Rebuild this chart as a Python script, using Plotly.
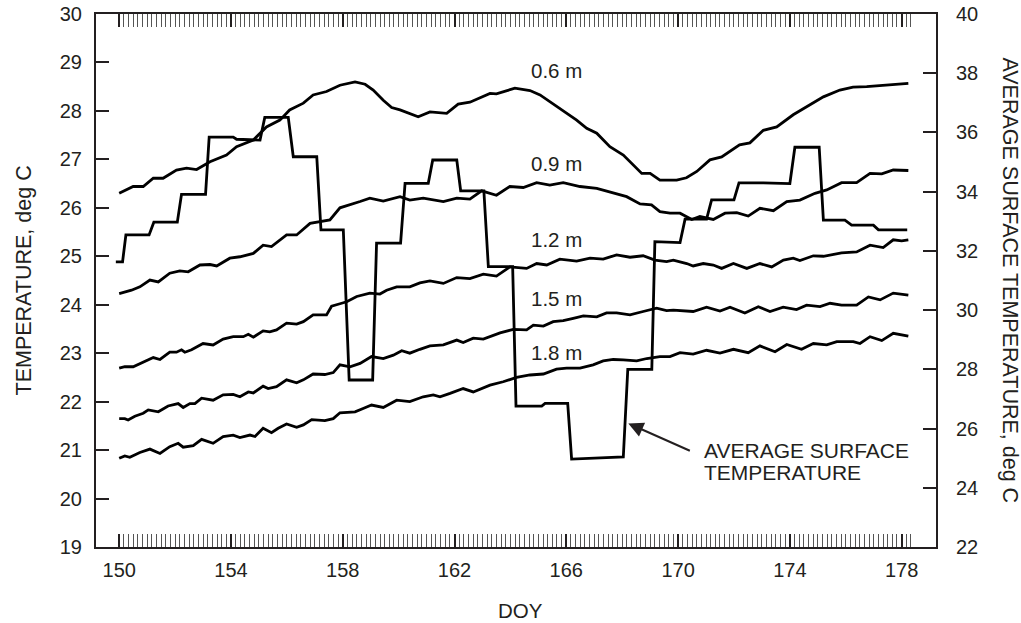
import plotly.graph_objects as go

# ---------------- data ----------------
d06_day = [150.0, 150.5, 150.86, 151.22, 151.57, 152.05, 152.41, 152.77, 153.25, 153.84, 154.2, 154.8,
           155.27, 155.75, 156.1, 156.59, 156.94, 157.42, 157.9, 158.44, 158.8, 159.09, 159.45, 159.75,
           160.05, 160.7, 161.12, 161.72, 162.13, 162.55, 163.27, 163.5, 164.16, 164.7, 165.06, 165.65,
           166.37, 166.73, 167.09, 167.56, 168.04, 168.7, 169.0, 169.35, 169.95, 170.3, 170.67, 171.14,
           171.56, 172.2, 172.57, 173.05, 173.53, 174.12, 174.6, 175.2, 175.79, 176.26, 176.75, 177.47, 178.24]
d06_temp = [26.30, 26.44, 26.44, 26.61, 26.61, 26.78, 26.82, 26.79, 26.95, 27.09, 27.26, 27.40,
            27.67, 27.81, 28.02, 28.16, 28.33, 28.40, 28.53, 28.60, 28.55, 28.43, 28.22, 28.07,
            28.02, 27.88, 27.98, 27.95, 28.14, 28.18, 28.36, 28.35, 28.47, 28.42, 28.33, 28.09,
            27.81, 27.64, 27.54, 27.26, 27.09, 26.71, 26.71, 26.57, 26.57, 26.62, 26.75, 26.99,
            27.05, 27.30, 27.34, 27.60, 27.67, 27.92, 28.09, 28.29, 28.43, 28.49, 28.50, 28.53, 28.57]

d09_day = [150.0, 150.44, 150.74, 151.1, 151.4, 151.81, 152.17, 152.47, 152.89, 153.25, 153.49, 153.96,
           154.32, 154.56, 154.8, 155.15, 155.45, 155.99, 156.35, 156.83, 157.18, 157.54, 157.9, 158.26,
           158.62, 158.97, 159.45, 160.05, 160.4, 160.88, 161.6, 162.08, 162.55, 162.97, 163.5, 163.98,
           164.46, 164.94, 165.41, 165.89, 166.49, 167.09, 167.68, 168.16, 168.64, 169.05, 169.35, 169.71,
           170.07, 170.49, 170.78, 171.26, 171.68, 172.1, 172.51, 172.93, 173.41, 173.89, 174.36, 174.9,
           175.32, 175.85, 176.39, 176.87, 177.29, 177.7, 178.24]
d09_temp = [24.23, 24.30, 24.37, 24.51, 24.47, 24.65, 24.70, 24.68, 24.82, 24.83, 24.80, 24.96,
            24.99, 25.03, 25.06, 25.23, 25.20, 25.44, 25.44, 25.68, 25.71, 25.75, 26.00, 26.06,
            26.13, 26.20, 26.14, 26.23, 26.16, 26.20, 26.13, 26.20, 26.18, 26.35, 26.26, 26.44,
            26.42, 26.52, 26.47, 26.52, 26.44, 26.40, 26.30, 26.23, 26.08, 26.06, 25.92, 25.89,
            25.89, 25.76, 25.82, 25.76, 25.89, 25.90, 25.83, 25.99, 25.94, 26.13, 26.16, 26.30,
            26.37, 26.52, 26.52, 26.71, 26.70, 26.78, 26.77]

d12_day = [150.0, 150.2, 150.5, 150.86, 151.22, 151.46, 151.81, 152.05, 152.23, 152.35, 152.59, 153.0,
           153.36, 153.72, 154.08, 154.44, 154.62, 154.8, 155.15, 155.39, 155.63, 155.99, 156.35, 156.59,
           156.94, 157.42, 157.6, 157.9, 158.14, 158.5, 158.97, 159.33, 159.57, 159.93, 160.4, 160.76,
           161.12, 161.6, 162.08, 162.55, 163.03, 163.5, 163.98, 164.58, 164.94, 165.3, 165.77, 166.37,
           166.85, 167.32, 167.8, 168.28, 168.75, 169.17, 169.59, 169.83, 170.31, 170.54, 170.9, 171.26,
           171.56, 171.98, 172.46, 172.93, 173.35, 173.77, 174.12, 174.36, 174.84, 175.2, 175.85, 176.39,
           176.87, 177.34, 177.7, 178.0, 178.24]
d12_temp = [22.69, 22.72, 22.72, 22.82, 22.91, 22.87, 23.02, 23.02, 23.07, 23.02, 23.07, 23.20,
            23.17, 23.29, 23.34, 23.34, 23.39, 23.33, 23.46, 23.44, 23.48, 23.62, 23.60, 23.65,
            23.79, 23.79, 23.97, 24.02, 24.06, 24.17, 24.24, 24.22, 24.30, 24.37, 24.37, 24.45,
            24.49, 24.44, 24.56, 24.54, 24.63, 24.59, 24.78, 24.75, 24.85, 24.82, 24.94, 24.90,
            24.96, 24.94, 25.03, 24.98, 25.01, 24.92, 24.89, 24.92, 24.85, 24.80, 24.85, 24.82,
            24.75, 24.85, 24.75, 24.85, 24.78, 24.92, 24.96, 24.91, 25.01, 25.00, 25.07, 25.09,
            25.23, 25.18, 25.34, 25.32, 25.34]

d15_day = [150.0, 150.2, 150.32, 150.56, 150.86, 151.04, 151.4, 151.57, 151.75, 152.11, 152.29, 152.53,
           152.71, 152.95, 153.36, 153.72, 154.08, 154.32, 154.62, 154.8, 155.15, 155.33, 155.63, 155.99,
           156.35, 156.59, 156.94, 157.36, 157.66, 157.9, 158.26, 158.62, 159.03, 159.45, 159.81, 160.11,
           160.4, 160.76, 161.12, 161.6, 162.08, 162.31, 162.67, 163.03, 163.39, 163.63, 164.1, 164.58,
           164.82, 165.18, 165.53, 165.89, 166.25, 166.61, 167.09, 167.44, 167.8, 168.28, 168.75, 169.23,
           169.59, 169.83, 170.54, 171.02, 171.5, 171.86, 172.39, 172.87, 173.29, 173.76, 174.24, 174.6,
           175.08, 175.44, 175.85, 176.39, 176.81, 177.23, 177.7, 178.24]
d15_temp = [21.65, 21.65, 21.62, 21.70, 21.76, 21.83, 21.79, 21.84, 21.91, 21.96, 21.88, 21.96,
            21.96, 22.07, 22.03, 22.14, 22.15, 22.10, 22.20, 22.18, 22.32, 22.27, 22.31, 22.45,
            22.39, 22.45, 22.57, 22.56, 22.60, 22.76, 22.72, 22.79, 22.93, 22.89, 22.96, 23.05,
            23.00, 23.08, 23.15, 23.17, 23.27, 23.22, 23.31, 23.29, 23.37, 23.42, 23.49, 23.48,
            23.58, 23.56, 23.65, 23.67, 23.72, 23.77, 23.75, 23.83, 23.83, 23.79, 23.86, 23.93,
            23.88, 23.89, 23.86, 23.95, 23.87, 23.95, 23.83, 23.96, 23.86, 23.95, 23.90, 23.99,
            23.96, 24.03, 23.99, 23.99, 24.16, 24.10, 24.24, 24.20]

d18_day = [150.0, 150.2, 150.38, 150.74, 151.1, 151.46, 151.81, 152.11, 152.29, 152.65, 152.95, 153.36,
           153.72, 154.08, 154.32, 154.68, 154.86, 155.15, 155.45, 155.69, 155.99, 156.35, 156.59, 156.89,
           157.36, 157.66, 157.9, 158.44, 158.73, 159.03, 159.45, 159.93, 160.4, 160.88, 161.24, 161.48,
           161.84, 162.31, 162.67, 163.27, 163.74, 164.22, 164.7, 165.18, 165.65, 166.01, 166.49, 166.96,
           167.32, 167.68, 168.04, 168.52, 168.88, 169.35, 169.71, 170.07, 170.54, 171.02, 171.5, 171.98,
           172.51, 172.93, 173.47, 173.89, 174.42, 174.84, 175.32, 175.68, 176.27, 176.51, 176.87, 177.29,
           177.7, 178.0, 178.24]
d18_temp = [20.83, 20.88, 20.85, 20.95, 21.02, 20.93, 21.07, 21.14, 21.06, 21.09, 21.22, 21.14,
            21.28, 21.31, 21.26, 21.31, 21.28, 21.45, 21.36, 21.45, 21.54, 21.47, 21.52, 21.63,
            21.61, 21.65, 21.77, 21.79, 21.86, 21.93, 21.88, 22.03, 22.00, 22.10, 22.14, 22.10,
            22.17, 22.27, 22.20, 22.34, 22.41, 22.50, 22.55, 22.57, 22.67, 22.69, 22.69, 22.76,
            22.84, 22.87, 22.86, 22.84, 22.89, 22.93, 22.93, 23.01, 22.98, 23.06, 23.00, 23.08,
            23.01, 23.15, 23.03, 23.18, 23.08, 23.20, 23.17, 23.24, 23.24, 23.20, 23.34, 23.26,
            23.41, 23.37, 23.35]

surf_day = [149.88, 150.12, 150.24, 151.07, 151.24, 152.08, 152.23, 153.09, 153.22, 154.08, 154.2, 155.04,
            155.21, 156.05, 156.23, 157.07, 157.22, 158.02, 158.23, 159.07, 159.21, 160.07, 160.23, 161.06,
            161.22, 162.08, 162.22, 163.05, 163.21, 164.08, 164.2, 165.12, 165.24, 166.05, 166.19, 168.04,
            168.2, 169.06, 169.17, 170.07, 170.25, 171.02, 171.2, 172.0, 172.18, 173.05, 174.0, 174.18,
            175.05, 175.2, 175.97, 176.21, 176.99, 177.17, 178.2]
surf_temp = [31.63, 31.63, 32.54, 32.54, 32.97, 32.97, 33.91, 33.91, 35.84, 35.84, 35.77, 35.74,
             36.51, 36.51, 35.18, 35.18, 32.71, 32.71, 27.64, 27.64, 32.26, 32.26, 34.28, 34.28,
             35.07, 35.07, 34.03, 34.03, 31.47, 31.47, 26.76, 26.76, 26.85, 26.85, 24.97, 25.04,
             28.0, 28.0, 32.31, 32.28, 33.07, 33.07, 33.72, 33.72, 34.30, 34.30, 34.27, 35.50,
             35.50, 33.04, 33.04, 32.87, 32.87, 32.71, 32.71]

depth_labels = ["0.6 m", "0.9 m", "1.2 m", "1.5 m", "1.8 m"]
label_day = [165.65, 165.65, 165.65, 165.65, 165.65]
label_temp = [28.84, 26.92, 25.34, 24.13, 23.02]

x_labels = [150, 154, 158, 162, 166, 170, 174, 178]
x_major = [150 + 4 * k / 3 for k in range(22)]
x_minor = [150 + k / 6 for k in range(171)]

# ---------------- figure ----------------
INK = "#231f20"
FONT = "Liberation Sans, Arial, Helvetica, sans-serif"
LW = 2.8

fig = go.Figure()
for dd, tt in [(d06_day, d06_temp), (d09_day, d09_temp), (d12_day, d12_temp),
               (d15_day, d15_temp), (d18_day, d18_temp)]:
    fig.add_trace(go.Scatter(x=dd, y=tt, mode="lines", yaxis="y",
                             line=dict(color="#000000", width=LW), showlegend=False,
                             hoverinfo="skip"))
fig.add_trace(go.Scatter(x=surf_day, y=surf_temp, mode="lines", yaxis="y2",
                         line=dict(color="#000000", width=LW), showlegend=False,
                         hoverinfo="skip"))

ticktext = []
for v in x_major:
    r = round(v)
    ticktext.append(str(r) if abs(v - r) < 1e-6 and r in x_labels else "")

fig.update_layout(
    width=1021, height=623, autosize=False,
    margin=dict(l=96, r=85, t=14, b=76, pad=0, autoexpand=False),
    paper_bgcolor="white", plot_bgcolor="white",
    font=dict(family=FONT, color=INK, size=20),
    showlegend=False,
    xaxis=dict(range=[149.17, 179.23], showgrid=False, zeroline=False, automargin=False,
               showline=True, linecolor=INK, linewidth=2, mirror="allticks",
               ticks="inside", ticklen=13, tickwidth=1.5, tickcolor=INK,
               tickmode="array", tickvals=x_major, ticktext=ticktext,
               tickfont=dict(size=20, family=FONT, color=INK), ticklabelstandoff=4,
               minor=dict(tickmode="array", tickvals=x_minor, ticks="inside",
                          ticklen=7, tickwidth=0.8, tickcolor="#555555", showgrid=False)),
    yaxis=dict(range=[19, 30], showgrid=False, zeroline=False, automargin=False,
               showline=True, linecolor=INK, linewidth=2, mirror=False,
               ticks="inside", ticklen=13, tickwidth=1.5, tickcolor=INK,
               tickmode="linear", tick0=19, dtick=1,
               tickfont=dict(size=20, family=FONT, color=INK), ticklabelstandoff=8),
    yaxis2=dict(range=[22, 40], overlaying="y", side="right", anchor="x",
                showgrid=False, zeroline=False, automargin=False,
                showline=True, linecolor=INK, linewidth=2,
                ticks="inside", ticklen=13, tickwidth=1.5, tickcolor=INK,
                tickmode="linear", tick0=22, dtick=2,
                tickfont=dict(size=20, family=FONT, color=INK), ticklabelstandoff=14),
)

annotations = []
for lab, dx, ty in zip(depth_labels, label_day, label_temp):
    annotations.append(dict(x=dx, y=ty, xref="x", yref="y", text=lab, showarrow=False,
                            font=dict(size=20.5, family=FONT, color=INK),
                            xanchor="center", yanchor="middle"))

# arrow pointing at the surface-temperature step line
annotations.append(dict(x=168.22, y=21.55, xref="x", yref="y", text="", showarrow=True,
                        ax=63, ay=28, axref="pixel", ayref="pixel",
                        arrowhead=2, arrowsize=1.5, arrowwidth=2, arrowcolor=INK, standoff=0))
annotations.append(dict(x=0.7211, y=0.1807, xref="paper", yref="paper", text="AVERAGE SURFACE",
                        showarrow=False, xanchor="left", yanchor="middle",
                        font=dict(size=21, family=FONT, color=INK)))
annotations.append(dict(x=0.7211, y=0.1394, xref="paper", yref="paper", text="TEMPERATURE",
                        showarrow=False, xanchor="left", yanchor="middle",
                        font=dict(size=21, family=FONT, color=INK)))

# axis titles
annotations.append(dict(x=(23 - 96) / 840, y=0.5, xref="paper", yref="paper",
                        text="TEMPERATURE, deg C", textangle=-90, showarrow=False,
                        xanchor="center", yanchor="middle",
                        font=dict(size=21.5, family=FONT, color=INK)))
annotations.append(dict(x=(1010 - 96) / 840, y=0.5, xref="paper", yref="paper",
                        text="AVERAGE SURFACE TEMPERATURE, deg C", textangle=90, showarrow=False,
                        xanchor="center", yanchor="middle",
                        font=dict(size=21.5, family=FONT, color=INK)))
annotations.append(dict(x=(520 - 96) / 840, y=(547 - 610) / 533, xref="paper", yref="paper",
                        text="DOY", showarrow=False, xanchor="center", yanchor="middle",
                        font=dict(size=20.5, family=FONT, color=INK)))
fig.update_layout(annotations=annotations)

fig.write_html("out.html")
